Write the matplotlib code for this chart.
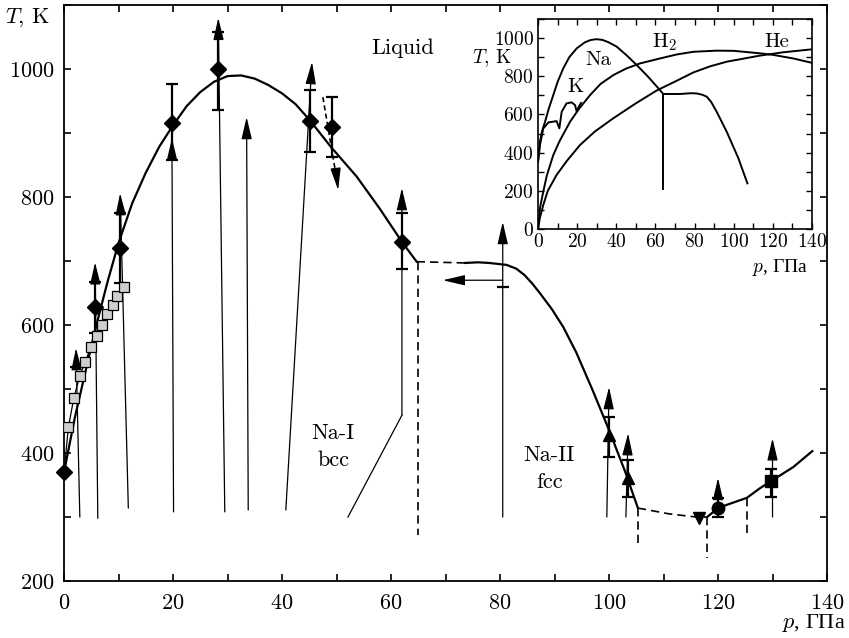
import numpy as np
import matplotlib
matplotlib.use('Agg')
import matplotlib.pyplot as plt
from matplotlib.patches import FancyArrowPatch
from matplotlib.ticker import MultipleLocator

plt.rcParams['font.family'] = ['cmr10', 'Liberation Serif', 'DejaVu Serif']
plt.rcParams['mathtext.fontset'] = 'cm'
plt.rcParams['axes.formatter.use_mathtext'] = True

# ---- main panel data (p in GPa, T in K) ----
# melting curve bcc -> liquid
mc_p = [0, 2, 5.7, 8, 10, 12.5, 15, 17.5, 20, 22.5, 25, 27.5, 30, 32.5, 35, 37.5,
        40, 42.5, 45.1, 49, 53.7, 58, 62, 64.7]
mc_T = [370, 456, 592, 668, 728, 790, 838, 879, 912, 942, 964, 980, 989, 990, 985, 975,
        962, 945, 920, 878, 832, 781, 730, 699]
# fcc melting curve
fcc_p = [73.6, 76, 78, 81.2, 83, 84.5, 85.9, 87.3, 89.5, 91.6, 94, 97, 100, 103, 105.3]
fcc_T = [697, 698, 697, 694, 688, 678, 665, 650, 625, 597, 557, 498, 436, 370, 314]
dash1_p = [64.7, 73.6]
dash1_T = [699, 697]
dash2_p = [105.3, 111, 116, 118]
dash2_T = [314, 305, 300, 300]
hp_p = [118, 120, 121.6, 125.3, 127.7, 129.7, 133.8, 137.3]
hp_T = [300, 314, 319, 330, 345, 356, 378, 403]
# vertical dashed phase boundaries
vd_p = [65, 105.3, 118, 125.3]
vd_top = [699, 314, 300, 330]
vd_bot = [272, 253, 236, 267]

# diamonds with error bars
dia_p = [0, 5.7, 10.3, 19.8, 28.3, 45.1, 49.2, 62.0]
dia_T = [370, 628, 720, 916, 1000, 919, 909, 730]
dia_lo = [370, 588, 666, 858, 936, 870, 862, 687]
dia_hi = [370, 667, 775, 976, 1058, 967, 956, 775]
# grey squares
sq_p = [0.8, 1.8, 2.9, 3.9, 4.9, 6.0, 6.9, 7.9, 8.9, 9.8, 11.0]
sq_T = [440, 486, 521, 542, 566, 583, 600, 617, 631, 645, 659]
# fcc / high-pressure points
tri_p = [100, 103.5]
tri_T = [428, 361]
tri_lo = [394, 331]
tri_hi = [456, 389]
dtri_p = [116.5]
dtri_T = [298]
circ_p = [120]
circ_T = [314]
circ_lo = [300]
circ_hi = [330]
bsq_p = [129.7]
bsq_T = [356]
bsq_lo = [331]
bsq_hi = [375]
# extra single caps
cap_p = [2.2, 80.5]
cap_T = [535, 659]

# arrows: start (p, T) -> tip (p, T)
arr_p0 = [2.9, 6.2, 11.8, 20.1, 29.5, 33.8, 40.7, 62.0, 80.5, 99.6, 103.1, 120, 130]
arr_T0 = [300, 298, 314, 308, 308, 311, 311, 459, 300, 300, 300, 300, 300]
arr_p1 = [2.2, 5.7, 10.3, 19.8, 28.3, 33.5, 45.5, 62.0, 80.5, 100, 103.5, 120, 130]
arr_T1 = [564, 698, 806, 892, 1080, 925, 1011, 814, 761, 503, 431, 361, 423]
bent_p = [52.1, 62.0]
bent_T = [300, 459]

# ---- inset data ----
na_p = [0, 1.0, 2, 3.6, 5.5, 7.8, 10, 12.9, 16, 19.8, 24, 27, 30, 33, 36, 40.2,
        45, 50.4, 56, 61.5, 64]
na_T = [351, 457, 510, 562, 630, 701, 770, 841, 900, 946, 978, 990, 994, 990, 978, 955,
        912, 859, 800, 737, 707]
na2_p = [64, 72.6, 78, 81, 84, 86.2, 88.5, 91.3, 96.4, 102.4, 107]
na2_T = [707, 707, 711, 710, 703, 693, 665, 614, 510, 370, 239]
na_v_p = [64, 64]
na_v_T = [707, 210]
k_p = [0, 1.0, 2.7, 5.3, 9.5, 10.9, 12.1, 14.6, 17.2, 18.9, 19.8, 20.8, 22.0]
k_T = [351, 440, 527, 558, 565, 527, 614, 658, 663, 649, 614, 640, 660]
h2_p = [0, 1, 2.7, 4.5, 7.8, 11, 16.4, 21, 26.6, 32, 38.5, 45, 52.1, 62.3, 70.9, 79.4,
        91.3, 100, 113.4, 120, 130.5, 140]
h2_T = [0, 110, 196, 280, 387, 460, 562, 630, 701, 760, 806, 840, 867, 893, 914, 928,
        934, 933, 920, 912, 893, 870]
he_p = [0, 1, 2.7, 5, 9.5, 15, 21.5, 29, 38.5, 50, 60.6, 72.6, 79.4, 88, 96.4, 113.4,
        125, 140]
he_T = [0, 60, 126, 200, 283, 360, 440, 510, 580, 658, 725, 785, 820, 852, 876, 908,
        925, 941]

fig = plt.figure(figsize=(8.49, 6.38), dpi=100)
ax = fig.add_axes([0.0754, 0.0893, 0.8987, 0.9028])

def arrow(a, p0, t0, p1, t1):
    a.add_patch(FancyArrowPatch((p0, t0), (p1, t1), arrowstyle='-|>,head_length=0.85,head_width=0.2',
                                mutation_scale=16, lw=0.9, color='k', shrinkA=0, shrinkB=0, zorder=3))

ax.plot(mc_p, mc_T, 'k-', lw=1.6, zorder=4)
ax.plot(fcc_p, fcc_T, 'k-', lw=1.6, zorder=4)
ax.plot(hp_p, hp_T, 'k-', lw=1.6, zorder=4)
ax.plot(dash1_p, dash1_T, 'k--', lw=1.2, dashes=(5, 3))
ax.plot(dash2_p, dash2_T, 'k--', lw=1.2, dashes=(5, 3))
for p, t0, t1 in zip(vd_p, vd_top, vd_bot):
    ax.plot([p, p], [t0, t1], 'k--', lw=1.2, dashes=(5, 3))

for i in range(len(arr_p0)):
    arrow(ax, arr_p0[i], arr_T0[i], arr_p1[i], arr_T1[i])
ax.plot(bent_p, bent_T, 'k-', lw=0.9)
# horizontal arrow from fcc point back toward bcc boundary
arrow(ax, 80.5, 670, 69.5, 670)
# dashed arrow going down
ax.plot([47.5, 50.0], [956, 830], 'k--', lw=1.2, dashes=(3, 2))
arrow(ax, 49.9, 840, 50.3, 811)

ax.errorbar(dia_p, dia_T, yerr=[np.array(dia_T) - dia_lo, np.array(dia_hi) - dia_T],
            fmt='none', ecolor='k', elinewidth=1.6, capsize=4.5, capthick=1.6, zorder=5)
ax.errorbar(tri_p + circ_p + bsq_p, tri_T + circ_T + bsq_T,
            yerr=[np.array(tri_T + circ_T + bsq_T) - (tri_lo + circ_lo + bsq_lo),
                  np.array(tri_hi + circ_hi + bsq_hi) - (tri_T + circ_T + bsq_T)],
            fmt='none', ecolor='k', elinewidth=1.6, capsize=4.5, capthick=1.6, zorder=5)
ax.plot(cap_p, cap_T, 'k_', ms=9, mew=1.6, zorder=5)

ax.plot([dia_p[0]] + sq_p, [dia_T[0]] + sq_T, 'k-', lw=0.9, zorder=5)
ax.plot(sq_p, sq_T, 's', ms=6.5, mfc='#cfcfcf', mec='k', mew=0.9, zorder=6)
ax.plot(dia_p, dia_T, 'kD', ms=8.5, zorder=7, clip_on=False)
ax.plot(tri_p, tri_T, 'k^', ms=9, zorder=7)
ax.plot(dtri_p, dtri_T, 'kv', ms=9, zorder=7)
ax.plot(circ_p, circ_T, 'ko', ms=9, zorder=7)
ax.plot(bsq_p, bsq_T, 'ks', ms=9, zorder=7)

ax.text(62.2, 1033, 'Liquid', fontsize=16, ha='center', va='center')
ax.text(49.4, 431, 'Na-I', fontsize=16, ha='center', va='center')
ax.text(49.4, 389, 'bcc', fontsize=16, ha='center', va='center')
ax.text(89, 397, 'Na-II', fontsize=16, ha='center', va='center')
ax.text(89, 355, 'fcc', fontsize=16, ha='center', va='center')

ax.set_xlim(0, 140)
ax.set_ylim(200, 1100)
ax.set_xticks([0, 20, 40, 60, 80, 100, 120, 140])
ax.set_yticks([200, 400, 600, 800, 1000])
ax.xaxis.set_minor_locator(MultipleLocator(10))
ax.yaxis.set_minor_locator(MultipleLocator(100))
ax.tick_params(which='both', direction='in', top=True, right=True, length=5, width=1.2)
ax.tick_params(axis='x', labelsize=16, pad=9)
ax.tick_params(axis='y', labelsize=16, pad=7)
for s in ax.spines.values():
    s.set_linewidth(1.3)
fig.text(5 / 849, 1 - 18 / 638, r'$T$, K', fontsize=16, ha='left', va='center')
fig.text(846 / 849, 1 - 623 / 638, r'$p$, ГПа', fontsize=16, ha='right', va='center',
         family=['Liberation Serif'])

# ---- inset ----
ins = fig.add_axes([0.6337, 0.6411, 0.3227, 0.3292])
ins.set_facecolor('white')
ins.plot(na_p, na_T, 'k-', lw=1.4)
ins.plot(na2_p, na2_T, 'k-', lw=1.4)
ins.plot(na_v_p, na_v_T, 'k-', lw=1.4)
ins.plot(k_p, k_T, 'k-', lw=1.4)
ins.plot(h2_p, h2_T, 'k-', lw=1.4)
ins.plot(he_p, he_T, 'k-', lw=1.4)
ins.text(30.7, 885, 'Na', fontsize=15, ha='center', va='center')
ins.text(19.4, 743, 'K', fontsize=15, ha='center', va='center')
ins.text(64.9, 979, r'H$_2$', fontsize=15, ha='center', va='center')
ins.text(122, 979, 'He', fontsize=15, ha='center', va='center')
ins.set_xlim(0, 140)
ins.set_ylim(0, 1100)
ins.set_xticks(range(0, 141, 20))
ins.set_yticks(range(0, 1001, 200))
ins.xaxis.set_minor_locator(MultipleLocator(10))
ins.yaxis.set_minor_locator(MultipleLocator(100))
ins.tick_params(which='both', direction='in', top=True, right=True, length=4, width=1.0, labelsize=14)
ins.tick_params(axis='x', pad=3)
ins.tick_params(axis='y', pad=3)
for s in ins.spines.values():
    s.set_linewidth(1.2)
fig.text(512 / 849, 1 - 58 / 638, r'$T$, K', fontsize=14, ha='right', va='center')
fig.text(808 / 849, 1 - 267 / 638, r'$p$, ГПа', fontsize=14, ha='right', va='center',
         family=['Liberation Serif'])

fig.savefig('out.png', dpi=100)
